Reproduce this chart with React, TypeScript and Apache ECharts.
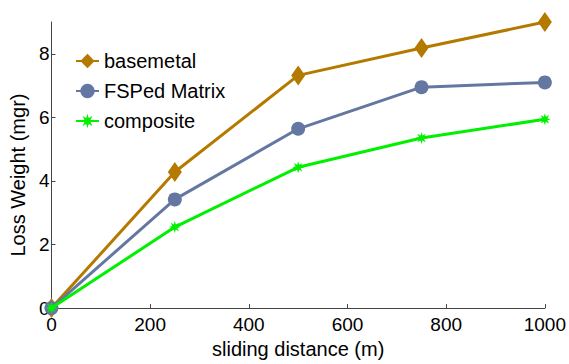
import React, { useEffect, useRef } from "react";
import * as echarts from "echarts";

const distances = [0, 250, 500, 750, 1000];
const basemetal = [0, 4.28, 7.32, 8.18, 9.0];
const fsped = [0, 3.42, 5.64, 6.95, 7.1];
const composite = [0, 2.55, 4.43, 5.35, 5.94];
const seriesNames = ["basemetal", "FSPed Matrix", "composite"];
const yTicks = [0, 2, 4, 6, 8];

function starPath(): string {
  const pts: string[] = [];
  for (let k = 0; k < 16; k++) {
    const a = (k * Math.PI) / 8 - Math.PI / 2;
    const r = k % 2 === 0 ? 10 : 4.5;
    pts.push(`${(10 + r * Math.cos(a)).toFixed(2)} ${(10 + r * Math.sin(a)).toFixed(2)}`);
  }
  return "path://M" + pts.join(" L") + " Z";
}

export default function App() {
  const ref = useRef<HTMLDivElement>(null);
  useEffect(() => {
    if (!ref.current) return;
    const chart = echarts.init(ref.current, null, { renderer: "svg" });
    const font = "Liberation Sans";
    const mk = (vals: number[]) => distances.map((d, i) => [d, vals[i]]);
    chart.setOption({
      animation: false,
      textStyle: { fontFamily: font },
      grid: { left: 45, right: 23, top: 22, bottom: 48 },
      legend: {
        orient: "vertical",
        left: 70,
        top: 46,
        itemWidth: 23,
        itemHeight: 18,
        itemGap: 10,
        textStyle: { fontSize: 20, color: "#000", fontFamily: font },
        data: seriesNames,
      },
      xAxis: {
        type: "value",
        min: 0,
        max: 1000,
        interval: 200,
        name: "sliding distance (m)",
        nameLocation: "middle",
        nameGap: 27,
        nameTextStyle: { fontSize: 20, color: "#000", fontFamily: font },
        axisLine: { lineStyle: { color: "#444", width: 1 } },
        axisTick: { inside: true, length: 4, lineStyle: { color: "#444" } },
        axisLabel: {
          fontSize: 19,
          color: "#000",
          margin: 7,
          fontFamily: font,
          formatter: (v: number) => String(v),
        },
        splitLine: { show: false },
      },
      yAxis: {
        type: "value",
        min: 0,
        max: 9,
        interval: 2,
        name: "Loss Weight (mgr)",
        nameLocation: "middle",
        nameGap: 22,
        nameTextStyle: { fontSize: 20, color: "#000", fontFamily: font, padding: [0, 20, 0, 0] },
        axisLine: { show: true, lineStyle: { color: "#444", width: 1 } },
        axisTick: { show: true, inside: true, length: 4, lineStyle: { color: "#444" }, customValues: yTicks },
        axisLabel: { fontSize: 19, color: "#000", margin: 2, fontFamily: font, customValues: yTicks },
        splitLine: { show: false },
      },
      series: [
        {
          name: seriesNames[0],
          type: "line",
          data: mk(basemetal),
          symbol: "diamond",
          symbolSize: [14, 20],
          color: "#B47A00",
          lineStyle: { width: 3 },
          clip: false,
          z: 3,
        },
        {
          name: seriesNames[1],
          type: "line",
          data: mk(fsped),
          symbol: "circle",
          symbolSize: 14,
          color: "#6477A3",
          lineStyle: { width: 3 },
          clip: false,
          z: 4,
        },
        {
          name: seriesNames[2],
          type: "line",
          data: mk(composite),
          symbol: starPath(),
          symbolSize: 12,
          color: "#00F000",
          lineStyle: { width: 3 },
          clip: false,
          z: 5,
        },
      ],
    });
    return () => chart.dispose();
  }, []);
  return <div ref={ref} style={{ width: 569, height: 364, position: "absolute", left: 0, top: 0 }} />;
}
